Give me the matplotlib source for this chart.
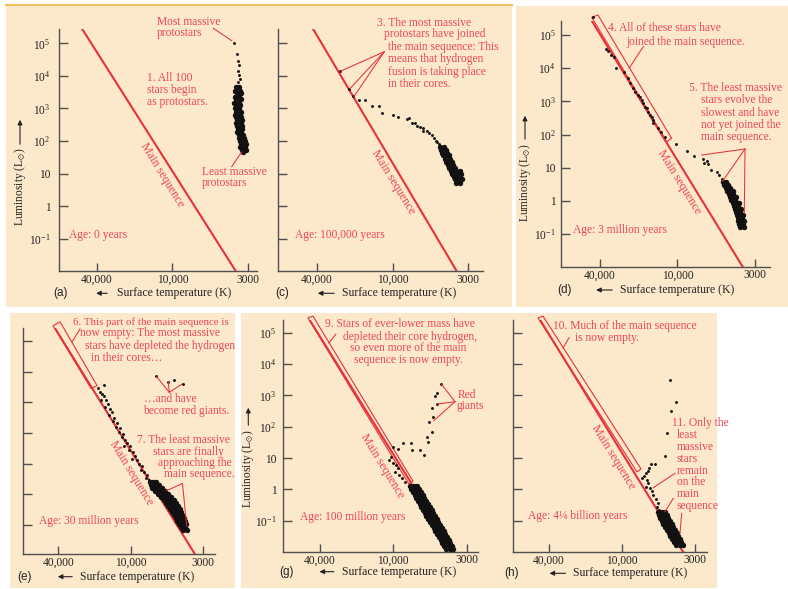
import numpy as np
import matplotlib
matplotlib.use('Agg')
import matplotlib.pyplot as plt
from matplotlib.lines import Line2D
from matplotlib.patches import Polygon, Rectangle, FancyArrowPatch
from matplotlib.ticker import NullLocator

plt.rcParams['font.family'] = ['Liberation Serif', 'DejaVu Serif']
plt.rcParams['mathtext.fontset'] = 'stix'

W, H = 788, 589
RED = '#e6323b'
NOTE = '#ec4654'
PEACH = '#fce8ca'
INK = '#262223'
AXIS = '#505050'

# ---------------- data ----------------
temp_ticks = [40000, 10000, 3000]
temp_labels = ['40,000', '10,000', '3000']
lum_ticks = [1e-1, 1, 10, 1e2, 1e3, 1e4, 1e5]
lum_labels = [r'$\mathregular{10^{-1}}$', '1', '10', r'$\mathregular{10^{2}}$',
              r'$\mathregular{10^{3}}$', r'$\mathregular{10^{4}}$', r'$\mathregular{10^{5}}$']

# main sequence, one line per panel (a, c, d, e, g, h)
ms_hot = [52000, 42600, 46400, 42900, 49000, 47700]
ms_cool = [3640, 3600, 3610, 3360, 3680, 3650]
ms_lum = [2.7e5, 1.0e-2]

# (a) age 0
a_temp = [3750, 3580, 3520, 3460, 3520, 3460, 3410, 3520]
a_lum = [1.0e5, 4.8e4, 2.9e4, 2.1e4, 1.45e4, 1.1e4, 8300, 6300]
a_clump_temp = [3640, 3460, 3700, 3410, 3580, 3350, 3700, 3460, 3640, 3350, 3750, 3460,
                3640, 3410, 3700, 3460, 3640, 3350, 3700, 3410, 3640, 3350, 3580, 3300,
                3640, 3350, 3580, 3300, 3520, 3300, 3580, 3350, 3460, 3250, 3460, 3200,
                3410, 3150, 3350, 3100, 3410, 3150, 3300, 3100, 3250]
a_clump_lum = [4400, 4400, 3550, 3550, 2900, 2900, 2300, 2300, 1900, 1900, 1500, 1500,
               1250, 1250, 1000, 1000, 800, 800, 650, 650, 530, 530, 430, 430,
               350, 350, 280, 280, 230, 230, 185, 185, 150, 150, 120, 120,
               98, 98, 80, 80, 64, 64, 52, 52, 45]

# (c) age 100,000 years
c_temp = [26100, 22000, 20500, 18500, 16500, 14500, 12800, 12100, 9920, 9160, 7990, 7690,
          7370, 6990, 6810, 6460, 6190, 6160, 5780, 5600, 5360, 5170, 5010, 4930, 4780]
c_lum = [1.45e4, 4000, 2380, 1880, 1770, 1150, 1150, 750, 610, 530, 460, 495,
         370, 347, 287, 262, 244, 202, 202, 171, 149, 121, 100, 91, 79]
c_clump_temp = [4700, 4410, 4630, 4280, 4550, 4210, 4480, 4280, 4080, 4340, 4010,
                4280, 4080, 3890, 4140, 3830, 4080, 3890, 3710, 3950, 3650, 3420,
                3890, 3590, 3370, 3770, 3530, 3710, 3480, 3310, 3650, 3420]
c_clump_lum = [67, 67, 54, 54, 44, 44, 36, 36, 36, 29, 29,
               23, 23, 23, 19, 19, 15, 15, 15, 12.4, 12.4, 12.4,
               10, 10, 10, 8.1, 8.1, 6.6, 6.6, 6.6, 5.3, 5.3]

# (d) age 3 million years
d_temp = [45100, 36000, 34500, 32800, 31000, 30200, 25900, 24400, 23400, 22000, 21400,
          20400, 19600, 19000, 18400, 17900, 17400, 16900, 16400, 15900, 15400, 15400,
          14100, 13500, 12500, 10270, 8670, 7700, 6760, 6620, 6290, 6200, 5940, 5430,
          5220, 5030]
d_lum = [3.4e5, 3.7e4, 3.2e4, 2.5e4, 2.1e4, 1.0e4, 7800, 5000, 3500, 2450, 1950,
         1550, 1380, 1100, 870, 690, 620, 490, 390, 345, 275, 220,
         155, 122, 87, 51, 33, 22.7, 18, 14.3, 16.4, 12.7, 8.6, 7.6,
         6.1, 4.5]
d_clump_temp = [4930, 4700, 4850, 4560, 4700, 4420, 4630, 4360, 4220, 4490, 4220,
                4420, 4150, 4030, 4360, 4090, 4220, 3970, 3850, 4150, 3910,
                4090, 3850, 3730, 4030, 3790, 3970, 3730, 3610, 3910, 3670,
                3910, 3730, 3560, 3850, 3610, 3790, 3560]
d_clump_lum = [3.7, 3.7, 3.0, 3.0, 2.5, 2.5, 2.0, 2.0, 2.0, 1.6, 1.6,
               1.32, 1.32, 1.32, 1.07, 1.07, 0.87, 0.87, 0.87, 0.71, 0.71,
               0.57, 0.57, 0.57, 0.47, 0.47, 0.38, 0.38, 0.38, 0.31, 0.31,
               0.25, 0.25, 0.25, 0.20, 0.20, 0.165, 0.165]
d_box_temp = [46400, 41500, 11100, 12100]
d_box_lum = [3.4e5, 4.0e5, 77, 61]

# (e) age 30 million years
e_temp = [6570, 5320, 4840, 4190,
          16600, 18700, 17950, 17300, 16600, 17600, 16000, 15400, 16300, 14800, 14300,
          15100, 13700, 14000, 12900, 13200, 12200, 12500, 11600, 11800, 11100, 10700,
          11300, 10100, 10300, 9590, 9280, 9750, 8970, 8680, 8260, 8400, 7990, 7590,
          7720, 7340]
e_lum = [7400, 4730, 5500, 4000,
         3780, 3020, 2240, 1930, 1550, 1230, 1150, 850, 680, 590, 470,
         375, 300, 240, 205, 152, 142, 105, 91, 73, 58, 46,
         37, 37, 27.5, 23.5, 17.5, 14, 13, 9.6, 8.3, 6.1, 5.3, 4.2,
         3.4, 2.9]
e_clump_temp = [7230, 6870, 6540, 7100, 6650, 6210, 6980, 6430, 5910, 6650, 6110, 5620,
                6320, 5810, 5350, 6010, 5530, 5090, 5720, 5260, 4840, 5530, 5090, 4690,
                5350, 4920, 4530, 5180, 4760, 4390, 5000, 4600, 4310, 4840, 4530, 4240,
                4690, 4390, 4100, 4600, 4310, 4030, 4460, 4170, 3970, 4310, 4030,
                4170, 3900]
e_clump_lum = [2.5, 2.5, 2.5, 2.0, 2.0, 2.0, 1.6, 1.6, 1.6, 1.28, 1.28, 1.28,
               1.02, 1.02, 1.02, 0.82, 0.82, 0.82, 0.65, 0.65, 0.65, 0.52, 0.52, 0.52,
               0.42, 0.42, 0.42, 0.33, 0.33, 0.33, 0.27, 0.27, 0.27, 0.21, 0.21, 0.21,
               0.17, 0.17, 0.17, 0.136, 0.136, 0.136, 0.109, 0.109, 0.109, 0.087, 0.087,
               0.070, 0.070]
e_box_temp = [44200, 38700, 19000, 21300]
e_box_lum = [3.1e5, 4.2e5, 3500, 2800]

# (g) age 100 million years
g_temp = [4590, 4900, 5040, 4840, 5320, 5180, 5530, 5320, 5720, 5620, 6010, 6450, 7390,
          7520, 8490, 9220, 10000, 10400, 10800, 10000, 9560, 9310, 9730, 9060, 8630, 8240]
g_lum = [2310, 1230, 955, 550, 390, 209, 138, 69, 48, 33, 12.5, 18, 18,
         29.5, 29.5, 19.4, 23, 11, 8.6, 6.8, 6.0, 4.7, 3.65, 2.9, 2.25, 1.75]
g_clump_temp = [7600, 7120, 6770, 7470, 7000, 6550, 7240, 6770, 6340, 7000, 6550, 6140,
                6890, 6450, 6040, 6660, 6240, 5840, 6450, 6040, 5660, 6340, 5840, 5470,
                6140, 5750, 5300, 5940, 5560, 5210, 5840, 5380, 5040, 5660, 5210, 4880,
                5470, 5120, 4800, 5300, 4960, 4640, 5120, 4800, 4490, 5040, 4640, 4350,
                4880, 4570, 4280, 4720, 4420, 4140, 4570, 4280, 4000, 4490, 4210, 3940,
                4350, 4070, 3810, 4210, 3940, 3750]
g_clump_lum = [1.27, 1.27, 1.27, 1.02, 1.02, 1.02, 0.82, 0.82, 0.82, 0.66, 0.66, 0.66,
               0.53, 0.53, 0.53, 0.42, 0.42, 0.42, 0.34, 0.34, 0.34, 0.27, 0.27, 0.27,
               0.22, 0.22, 0.22, 0.175, 0.175, 0.175, 0.14, 0.14, 0.14, 0.112, 0.112, 0.112,
               0.090, 0.090, 0.090, 0.072, 0.072, 0.072, 0.058, 0.058, 0.058, 0.047, 0.047, 0.047,
               0.037, 0.037, 0.037, 0.030, 0.030, 0.030, 0.024, 0.024, 0.024, 0.019, 0.019, 0.019,
               0.0154, 0.0154, 0.0154, 0.0124, 0.0124, 0.0124]
g_box_temp = [50200, 45600, 7230, 7730]
g_box_lum = [3.0e5, 3.4e5, 1.84, 1.48]

# (h) age 4.25 billion years
h_temp = [4530, 4100, 4480, 4790, 4920, 5800, 6200, 6400, 6540, 6760, 6960, 7160, 6650,
          6480, 6760, 6300, 6120, 5970, 5730, 5550, 5650, 5430]
h_lum = [3100, 630, 316, 62, 11.8, 6.4, 6.3, 4.9, 3.9, 3.25, 2.7, 2.25, 1.98,
         1.56, 1.21, 1.12, 0.88, 0.66, 0.49, 0.36, 0.28, 0.22]
h_clump_temp = [5520, 5170, 4920, 5430, 5080, 4760, 5340, 5000, 4690, 5170, 4840, 4530,
                5080, 4690, 4390, 4920, 4610, 4320, 4760, 4460, 4170, 4610, 4320, 4030,
                4530, 4250, 3970, 4390, 4100, 3840, 4250, 3970, 3770, 4100, 3840, 3650]
h_clump_lum = [0.188, 0.188, 0.188, 0.151, 0.151, 0.151, 0.121, 0.121, 0.121, 0.097, 0.097, 0.097,
               0.078, 0.078, 0.078, 0.0625, 0.0625, 0.0625, 0.050, 0.050, 0.050, 0.040, 0.040, 0.040,
               0.032, 0.032, 0.032, 0.026, 0.026, 0.026, 0.0207, 0.0207, 0.0207, 0.0166, 0.0166, 0.0166]
h_box_temp = [49300, 44800, 7310, 7810]
h_box_lum = [3.0e5, 3.4e5, 4.5, 3.6]


# temperature axis: the three ticks sit at equal spacing
def temp_to_pos(t):
    lt = np.log10(np.clip(np.asarray(t, dtype=float), 1.0, None))
    return np.where(lt >= 4.0, (np.log10(40000.0) - lt) / np.log10(4.0),
                    1.0 + (4.0 - lt) / np.log10(10.0 / 3.0))


def pos_to_temp(u):
    u = np.asarray(u, dtype=float)
    return np.where(u <= 1.0, 40000.0 / 4.0 ** u, 10000.0 / (10.0 / 3.0) ** (u - 1.0))


fig = plt.figure(figsize=(W / 100, H / 100), dpi=100, facecolor='white')


def px(x, y):
    return x / W, 1 - y / H


# background panels
for x0, x1, y0, y1 in [(6, 512, 5, 307), (516, 788, 6, 307), (10, 235, 313, 588), (241, 717, 313, 588)]:
    fig.add_artist(Rectangle(px(x0, y1), (x1 - x0) / W, (y1 - y0) / H, transform=fig.transFigure,
                             facecolor=PEACH, edgecolor='none', zorder=-2))
fig.add_artist(Line2D([6 / W, 512 / W], [1 - 5 / H, 1 - 5 / H], transform=fig.transFigure,
                      color='#f2c25f', lw=1.5, zorder=-1))


def hr_panel(box, ulim, elim, k, loose, clump, show_y=False, ypad=5.5, box_pts=None):
    left, right, top, bottom = box
    ax = fig.add_axes([left / W, 1 - bottom / H, (right - left) / W, (bottom - top) / H])
    ax.set_facecolor('none')
    ax.set_xscale('function', functions=(temp_to_pos, pos_to_temp))
    ax.set_yscale('log')
    for side in ('top', 'right'):
        ax.spines[side].set_visible(False)
    for side in ('left', 'bottom'):
        ax.spines[side].set_color(AXIS)
        ax.spines[side].set_linewidth(1.0)

    ax.plot([ms_hot[k], ms_cool[k]], ms_lum, color=RED, lw=1.5, zorder=2)
    if box_pts is not None:
        ax.add_patch(Polygon(list(zip(*box_pts)), closed=True, fill=False, ec=RED,
                             lw=0.8, clip_on=False, zorder=2))
    ax.plot(loose[0], loose[1], 'o', ms=2.1, mew=0, color='#111111', clip_on=False, zorder=3)
    ax.plot(clump[0], clump[1], 'o', ms=3.9, mew=0, color='#111111', clip_on=False, zorder=3)

    ax.set_xticks(temp_ticks)
    ax.set_xticklabels(temp_labels)
    ax.xaxis.set_minor_locator(NullLocator())
    ax.set_yticks(lum_ticks)
    ax.set_yticklabels(lum_labels if show_y else [])
    ax.yaxis.set_minor_locator(NullLocator())
    ax.tick_params(direction='in', color=AXIS, width=1.0, labelsize=8.3, labelcolor=INK)
    ax.tick_params(axis='x', length=5.5, pad=2)
    ax.tick_params(axis='y', length=6.5, pad=ypad)
    # the scale runs downhill in temperature, so give the limits in increasing order
    ax.set_xlim(float(pos_to_temp(ulim[1])), float(pos_to_temp(ulim[0])))
    ax.set_ylim(10 ** elim[0], 10 ** elim[1])
    return ax


hr_panel((58.7, 257, 29.3, 271), (-0.502, 2.118), (-1.99, 5.43), 0,
         (a_temp, a_lum), (a_clump_temp, a_clump_lum), show_y=True, ypad=5.8)
hr_panel((278.3, 483.3, 29.3, 271), (-0.507, 2.198), (-1.99, 5.43), 1,
         (c_temp, c_lum), (c_clump_temp, c_clump_lum))
hr_panel((561, 770, 20.7, 266.7), (-0.503, 2.194), (-1.98, 5.43), 2,
         (d_temp, d_lum), (d_clump_temp, d_clump_lum), show_y=True, ypad=3.6,
         box_pts=(d_box_temp, d_box_lum))
hr_panel((22.7, 215, 327.7, 554.3), (-0.493, 2.170), (-1.95, 5.43), 3,
         (e_temp, e_lum), (e_clump_temp, e_clump_lum), box_pts=(e_box_temp, e_box_lum))
hr_panel((283.3, 478.3, 320, 551.7), (-0.5, 2.16), (-1.99, 5.41), 4,
         (g_temp, g_lum), (g_clump_temp, g_clump_lum), show_y=True, ypad=5.0,
         box_pts=(g_box_temp, g_box_lum))
hr_panel((513.3, 706.7, 320, 551.7), (-0.489, 2.16), (-1.99, 5.41), 5,
         (h_temp, h_lum), (h_clump_temp, h_clump_lum), box_pts=(h_box_temp, h_box_lum))


def note(x, y, s, size=8.3):
    fig.text(*px(x, y), s, color=NOTE, fontsize=size, ha='left', va='center')


def leader(p, q):
    fig.add_artist(Line2D([p[0] / W, q[0] / W], [1 - p[1] / H, 1 - q[1] / H],
                          transform=fig.transFigure, color=RED, lw=0.75))


def arrow(p, q):
    fig.add_artist(FancyArrowPatch(px(*p), px(*q), transform=fig.transFigure,
                                   arrowstyle='-|>', mutation_scale=7, lw=0.8, color=INK))


notes = [
    (156.7, 21.7, 'Most massive'), (156.7, 33.3, 'protostars'),
    (146.7, 78.3, '1. All 100'), (146.7, 90, 'stars begin'), (146.7, 101.7, 'as protostars.'),
    (201.7, 171.7, 'Least massive'), (201.7, 183.3, 'protostars'), (69.3, 235, 'Age: 0 years'),
    (376.7, 22.7, '3. The most massive'), (384.3, 34.3, 'protostars have joined'),
    (388.3, 46.7, 'the main sequence: This'), (388.3, 59.3, 'means that hydrogen'),
    (388.3, 71.7, 'fusion is taking place'), (388.3, 84, 'in their cores.'),
    (295, 235, 'Age: 100,000 years'),
    (608.3, 28.3, '4. All of these stars have'), (626.7, 41.7, 'joined the main sequence.'),
    (689.3, 88.3, '5. The least massive'), (701, 100, 'stars evolve the'),
    (701, 112.7, 'slowest and have'), (701, 125, 'not yet joined the'),
    (701, 137.3, 'main sequence.'), (572.7, 230, 'Age: 3 million years'),
    (80, 333.3, 'now empty: The most massive'),
    (85, 345.7, 'stars have depleted the hydrogen'), (90.7, 357.7, 'in their cores\u2026'),
    (143.5, 399, '\u2026and have'), (143.3, 411, 'become red giants.'),
    (137, 440, '7. The least massive'), (153.3, 452, 'stars are finally'),
    (158.3, 463, 'approaching the'), (163.7, 474, 'main sequence.'),
    (39.3, 520.7, 'Age: 30 million years'),
    (325, 324.3, '9. Stars of ever-lower mass have'), (343.3, 336.7, 'depleted their core hydrogen,'),
    (350, 348.3, 'so even more of the main'), (354.3, 360, 'sequence is now empty.'),
    (457.7, 395, 'Red'), (456.7, 405.7, 'giants'), (300, 516.7, 'Age: 100 million years'),
    (553.3, 325.7, '10. Much of the main sequence'), (575, 338.3, 'is now empty.'),
    (671.7, 423.3, '11. Only the'), (676.7, 435.5, 'least'), (676.7, 447.3, 'massive'),
    (676.7, 459, 'stars'), (676.7, 470.7, 'remain'), (676.7, 482.3, 'on the'),
    (676.7, 494.3, 'main'), (676.7, 506, 'sequence'), (527.7, 515.7, 'Age: 4\u00bc billion years'),
]
for x, y, s in notes:
    note(x, y, s)
note(72.7, 321.7, '6. This part of the main sequence is', size=7.8)

leaders = [
    ((213.3, 28.3), (231.7, 40.7)), ((241.7, 152), (231.7, 166.7)),
    ((384.3, 51.7), (341, 71)), ((384.3, 51.7), (350, 88.5)), ((384.3, 51.7), (354, 96.5)),
    ((629, 68.3), (643.3, 46.7)), ((745, 149), (701.7, 155)), ((745, 149), (722.7, 181)),
    ((745, 149), (744.3, 213.3)),
    ((72, 342), (80, 329)), ((169.3, 392.3), (156.7, 376.7)), ((169.3, 392.3), (168.3, 381.7)),
    ((169.3, 392.3), (181.7, 384.3)), ((182.5, 483.5), (166.5, 490.7)), ((182.5, 483.5), (186.7, 526)),
    ((329, 343), (335.7, 334.3)), ((455, 401.7), (441.7, 384.5)), ((455, 401.7), (437.5, 404)),
    ((455, 401.7), (434, 420.5)),
    ((563, 348), (569, 337.7)), ((675, 473.3), (653.3, 487.7)), ((673.3, 498.3), (665, 511.7)),
    ((681.7, 513.3), (680, 533.3)),
]
for p, q in leaders:
    leader(p, q)

# rotated main-sequence labels
for x, y in [(162, 175), (393, 182), (679, 182.5), (131.7, 473.3), (382, 466), (613.3, 457.5)]:
    fig.text(*px(x, y), 'Main sequence', color=NOTE, fontsize=8.7, rotation=-58.5,
             rotation_mode='anchor', ha='center', va='center')

# axis titles and panel letters
for x, yc, y0, y1 in [(20, 187, 147, 117), (525, 182.5, 142, 113), (248.3, 469, 428, 405)]:
    fig.text(*px(x, yc), r'Luminosity (L$_{\odot}$)', rotation=90, ha='center', va='center',
             fontsize=8.3, color=INK)
    arrow((x, y0), (x, y1))

for letter, lx, tx, ax0, ax1, y in [('(a)', 60, 116.7, 110, 93.3, 293.3),
                                     ('(c)', 282, 341.7, 337, 315, 293.3),
                                     ('(d)', 564, 620, 615, 593.3, 290),
                                     ('(e)', 25, 80, 75, 55, 576.7),
                                     ('(g)', 287, 341.7, 336.7, 316.7, 571.7),
                                     ('(h)', 512, 573.3, 568.3, 546.7, 573.3)]:
    fig.text(*px(lx, y), letter, family=['Liberation Sans', 'DejaVu Sans'], fontsize=8.5,
             ha='center', va='center', color=INK)
    fig.text(*px(tx, y), 'Surface temperature (K)', fontsize=8.5, ha='left', va='center', color=INK)
    arrow((ax0, y), (ax1, y))

fig.savefig('out.png', dpi=100, facecolor='white')
